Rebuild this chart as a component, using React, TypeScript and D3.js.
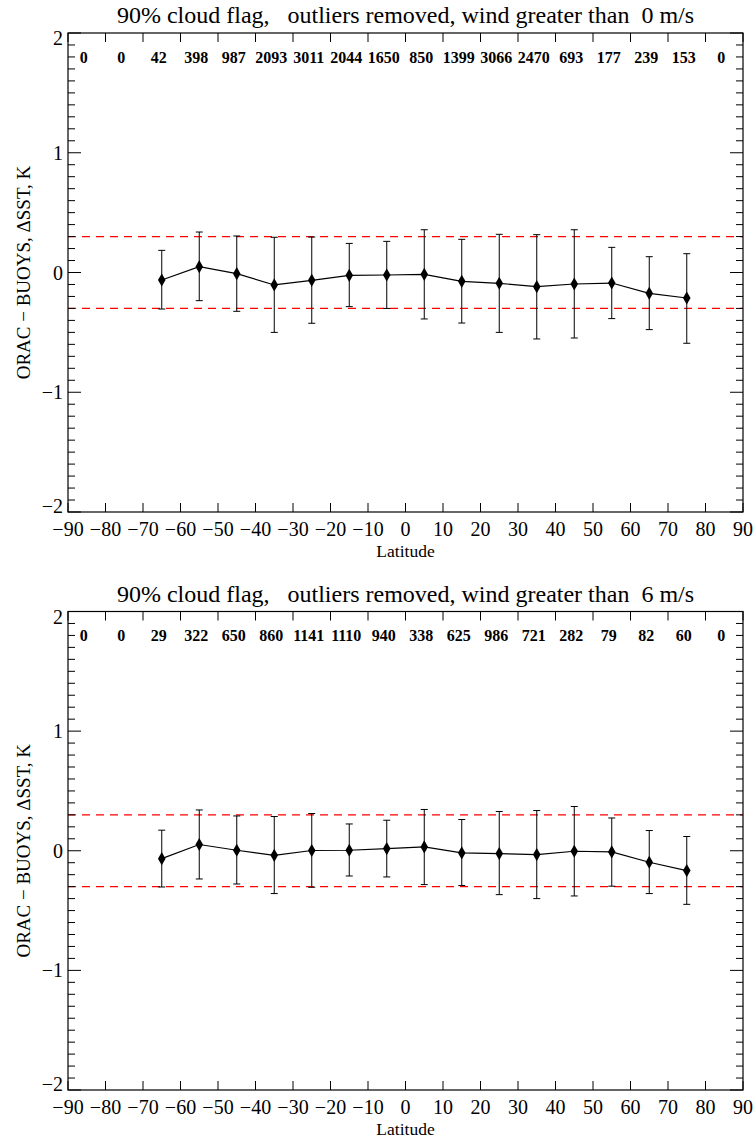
import React from "react";
import * as d3 from "d3";

const binCenters = [-85, -75, -65, -55, -45, -35, -25, -15, -5, 5, 15, 25, 35, 45, 55, 65, 75, 85];
const counts0 = [0, 0, 42, 398, 987, 2093, 3011, 2044, 1650, 850, 1399, 3066, 2470, 693, 177, 239, 153, 0];
const counts6 = [0, 0, 29, 322, 650, 860, 1141, 1110, 940, 338, 625, 986, 721, 282, 79, 82, 60, 0];

const pointLats = [-65, -55, -45, -35, -25, -15, -5, 5, 15, 25, 35, 45, 55, 65, 75];
const mean0 = [-0.063, 0.049, -0.010, -0.104, -0.065, -0.024, -0.021, -0.015, -0.074, -0.090, -0.118, -0.096, -0.088, -0.174, -0.213];
const upper0 = [0.185, 0.338, 0.305, 0.294, 0.296, 0.243, 0.260, 0.357, 0.277, 0.319, 0.316, 0.357, 0.210, 0.132, 0.157];
const lower0 = [-0.305, -0.235, -0.324, -0.500, -0.424, -0.285, -0.300, -0.388, -0.422, -0.500, -0.555, -0.547, -0.385, -0.477, -0.591];
const mean6 = [-0.066, 0.052, 0.004, -0.038, 0.002, 0.004, 0.018, 0.032, -0.018, -0.024, -0.032, -0.004, -0.010, -0.096, -0.166];
const upper6 = [0.172, 0.341, 0.291, 0.286, 0.311, 0.224, 0.255, 0.345, 0.261, 0.328, 0.336, 0.370, 0.274, 0.169, 0.119];
const lower6 = [-0.303, -0.236, -0.278, -0.358, -0.305, -0.211, -0.219, -0.283, -0.291, -0.367, -0.400, -0.378, -0.296, -0.358, -0.448];

const xTicks = d3.range(-90, 91, 10);
const yMajor = [-2, -1, 0, 1, 2];
const thresholds = [0.3, -0.3];
const countRowValue = 1.8;

const titles = [
  "90% cloud flag,   outliers removed, wind greater than  0 m/s",
  "90% cloud flag,   outliers removed, wind greater than  6 m/s",
];

const FONT = "'Liberation Serif', 'Times New Roman', Times, serif";
const fmt = (v: number) => (v < 0 ? "\u2212" + Math.abs(v) : String(v));

function Panel({ top, bottom, title, counts, mean, upper, lower }: any) {
  const left = 68;
  const right = 743;
  const x = d3.scaleLinear().domain([-90, 90]).range([left, right]);
  const y = d3.scaleLinear().domain([-2, 2]).range([bottom, top]);
  const yMinor = d3.range(-20, 21).map((v) => v / 10);
  const pts = pointLats.map((lat, i) => ({ lat, m: mean[i], u: upper[i], l: lower[i] }));
  const line = d3
    .line<any>()
    .x((d) => x(d.lat))
    .y((d) => y(d.m));
  const diamond = d3.symbol().type(d3.symbolDiamond).size(50)();
  return (
    <g>
      <text
        x={(left + right) / 2}
        y={top - 10}
        textAnchor="middle"
        fontSize={24}
        fontFamily={FONT}
        style={{ whiteSpace: "pre" }}
      >
        {title}
      </text>
      {thresholds.map((t) => (
        <line
          key={t}
          x1={left}
          x2={right}
          y1={y(t)}
          y2={y(t)}
          stroke="#ff0000"
          strokeWidth={1.2}
          strokeDasharray="8,6"
        />
      ))}
      <rect x={left} y={top} width={right - left} height={bottom - top} fill="none" stroke="#000" strokeWidth={1.2} />
      {xTicks.map((t) => (
        <g key={t}>
          <line x1={x(t)} x2={x(t)} y1={bottom} y2={bottom - 9} stroke="#000" />
          <line x1={x(t)} x2={x(t)} y1={top} y2={top + 9} stroke="#000" />
          <text x={x(t)} y={bottom + 24} textAnchor="middle" fontSize={20} fontFamily={FONT}>
            {fmt(t)}
          </text>
        </g>
      ))}
      {yMinor.map((t, i) => {
        const isMajor = Math.abs(t - Math.round(t)) < 1e-9;
        const len = isMajor ? 13 : 7;
        return (
          <g key={i}>
            <line x1={left} x2={left + len} y1={y(t)} y2={y(t)} stroke="#000" />
            <line x1={right} x2={right - len} y1={y(t)} y2={y(t)} stroke="#000" />
          </g>
        );
      })}
      {yMajor.map((t) => (
        <text
          key={t}
          x={left - 5}
          y={y(t) + (t === 2 ? 5 : t === -2 ? -6 : 0)}
          dy="0.35em"
          textAnchor="end"
          fontSize={20}
          fontFamily={FONT}
        >
          {fmt(t)}
        </text>
      ))}
      <text x={(left + right) / 2} y={bottom + 45} textAnchor="middle" fontSize={17.5} fontFamily={FONT}>
        Latitude
      </text>
      <text
        transform={`translate(${23},${y(0)}) rotate(-90)`}
        textAnchor="middle"
        dy="0.35em"
        fontSize={19}
        fontFamily={FONT}
      >
        ORAC {"\u2212"} BUOYS, {"\u0394"}SST, K
      </text>
      {binCenters.map((c, i) => (
        <text
          key={c}
          x={x(c) - 3}
          y={y(countRowValue)}
          dy="0.35em"
          textAnchor="middle"
          fontSize={16}
          fontWeight="bold"
          fontFamily={FONT}
        >
          {counts[i]}
        </text>
      ))}
      {pts.map((p) => (
        <g key={p.lat} stroke="#000" strokeWidth={1}>
          <line x1={x(p.lat)} x2={x(p.lat)} y1={y(p.u)} y2={y(p.l)} />
          <line x1={x(p.lat) - 3.5} x2={x(p.lat) + 3.5} y1={y(p.u)} y2={y(p.u)} />
          <line x1={x(p.lat) - 3.5} x2={x(p.lat) + 3.5} y1={y(p.l)} y2={y(p.l)} />
        </g>
      ))}
      <path d={line(pts) || ""} fill="none" stroke="#000" strokeWidth={1.2} />
      {pts.map((p) => (
        <path key={p.lat} d={diamond || ""} transform={`translate(${x(p.lat)},${y(p.m)})`} fill="#000" />
      ))}
    </g>
  );
}

export default function App() {
  return (
    <svg
      width={756}
      height={1140}
      style={{ position: "absolute", left: 0, top: 0, background: "#fff" }}
    >
      <rect width={756} height={1140} fill="#fff" />
      <Panel top={33} bottom={512} title={titles[0]} counts={counts0} mean={mean0} upper={upper0} lower={lower0} />
      <Panel top={611.5} bottom={1090} title={titles[1]} counts={counts6} mean={mean6} upper={upper6} lower={lower6} />
    </svg>
  );
}
